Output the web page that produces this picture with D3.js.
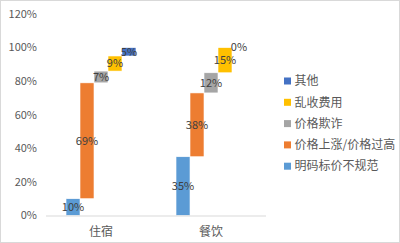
<!DOCTYPE html>
<html>
<head>
<meta charset="utf-8">
<script src="https://cdn.jsdelivr.net/npm/d3@7"></script>
<style>
  body { margin: 0; background: #fff; }
  svg text { font-family: "Noto Sans CJK SC", "Noto Sans", sans-serif; }
</style>
</head>
<body>
<div id="chart"></div>
<script>
var categories = ["住宿", "餐饮"];
var seriesNames = ["明码标价不规范", "价格上涨/价格过高", "价格欺诈", "乱收费用", "其他"];
var seriesValues = [
    [10, 35],
    [69, 38],
    [7, 12],
    [9, 15],
    [5, 0]
];
var yTicks = [0, 20, 40, 60, 80, 100, 120];
var colors = ["#5B9BD5", "#ED7D31", "#A5A5A5", "#FFC000", "#4472C4"];

var width = 400, height = 243;

var svg = d3.select("#chart").append("svg")
    .attr("width", width)
    .attr("height", height);

svg.append("rect")
    .attr("x", 0.5).attr("y", 0.5)
    .attr("width", width - 1).attr("height", height - 1)
    .attr("fill", "#fff")
    .attr("stroke", "#d9d9d9");

var x = d3.scaleBand().domain(categories).range([46, 266]);
var xInner = d3.scaleBand().domain(d3.range(seriesNames.length))
    .range([0, x.bandwidth()])
    .paddingInner(0)
    .paddingOuter(1.43);
var y = d3.scaleLinear().domain([0, 120]).range([215.5, 14]);

// waterfall: each series starts where the previous ended
var bars = [];
categories.forEach(function (c, ci) {
    var base = 0;
    seriesNames.forEach(function (s, si) {
        var v = seriesValues[si][ci];
        bars.push({ cat: c, si: si, y0: base, y1: base + v, v: v });
        base += v;
    });
});

// y axis labels
svg.selectAll(".ytick")
    .data(yTicks)
    .enter()
    .append("text")
    .attr("x", 37)
    .attr("y", function (d) { return y(d); })
    .attr("dy", "0.35em")
    .attr("text-anchor", "end")
    .attr("fill", "#595959")
    .attr("font-size", 11)
    .text(function (d) { return d + "%"; });

svg.selectAll(".bar")
    .data(bars)
    .enter()
    .append("rect")
    .attr("x", function (d) { return x(d.cat) + xInner(d.si); })
    .attr("width", xInner.bandwidth())
    .attr("y", function (d) { return y(d.y1); })
    .attr("height", function (d) { return y(d.y0) - y(d.y1); })
    .attr("fill", function (d) { return colors[d.si]; })
    .attr("stroke", "#fff")
    .attr("stroke-width", 0.6);

// x axis line
svg.append("line")
    .attr("x1", x.range()[0]).attr("x2", x.range()[1])
    .attr("y1", y(0) + 0.5).attr("y2", y(0) + 0.5)
    .attr("stroke", "#d9d9d9");

svg.selectAll(".xlab")
    .data(categories)
    .enter()
    .append("text")
    .attr("x", function (d) { return x(d) + x.bandwidth() / 2; })
    .attr("y", 231.5)
    .attr("dy", "0.35em")
    .attr("text-anchor", "middle")
    .attr("fill", "#595959")
    .attr("font-size", 12)
    .text(function (d) { return d; });

// data labels
svg.selectAll(".vlab")
    .data(bars)
    .enter()
    .append("text")
    .attr("x", function (d) { return x(d.cat) + xInner(d.si) + xInner.bandwidth() / 2; })
    .attr("y", function (d) { return y((d.y0 + d.y1) / 2); })
    .attr("dy", "0.35em")
    .attr("text-anchor", "middle")
    .attr("fill", "#404040")
    .attr("font-size", 11)
    .text(function (d) { return d.v + "%"; });

// legend, reversed order
var legendData = seriesNames.map(function (s, i) { return { name: s, i: i }; }).reverse();
var legend = svg.selectAll(".legend")
    .data(legendData)
    .enter()
    .append("g")
    .attr("transform", function (d, k) { return "translate(284," + (81 + k * 21.3) + ")"; });

legend.append("rect")
    .attr("x", 0).attr("y", -3.5)
    .attr("width", 7).attr("height", 7)
    .attr("fill", function (d) { return colors[d.i]; });

legend.append("text")
    .attr("x", 10.5)
    .attr("dy", "0.35em")
    .attr("fill", "#595959")
    .attr("font-size", 12)
    .text(function (d) { return d.name; });
</script>
</body>
</html>
